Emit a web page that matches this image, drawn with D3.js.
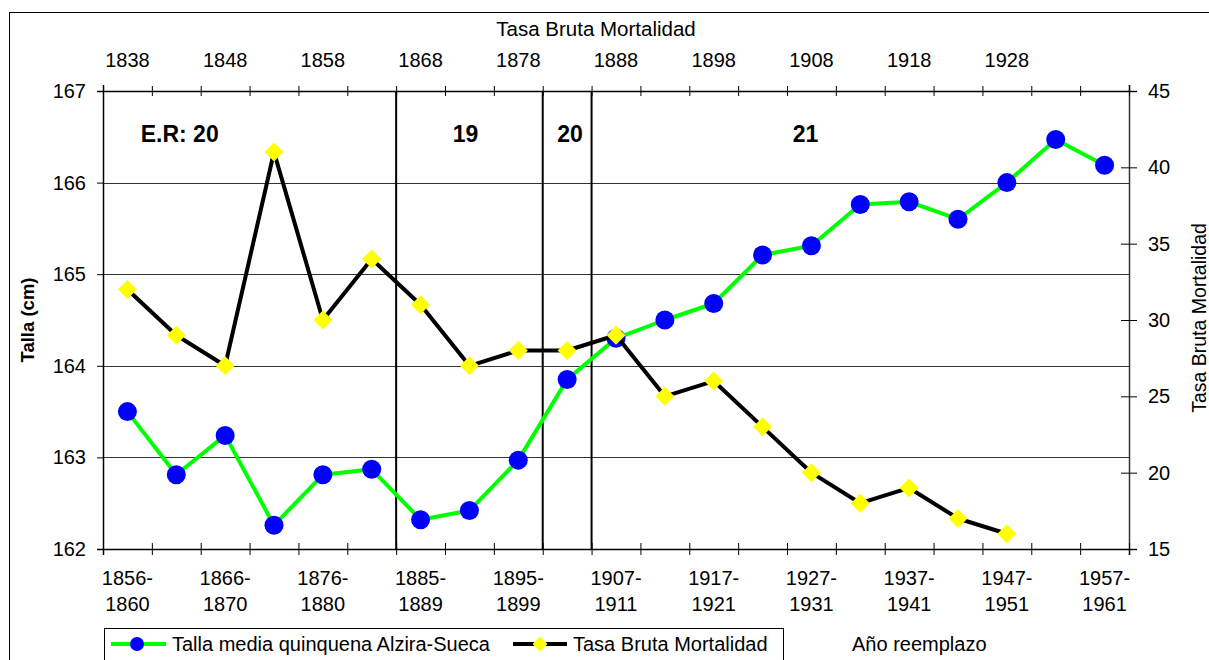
<!DOCTYPE html>
<html>
<head>
<meta charset="utf-8">
<script src="https://cdn.jsdelivr.net/npm/d3@7/dist/d3.min.js"></script>
<style>
  body { margin: 0; background: #fff; }
  text { font-family: "Liberation Sans", Arial, sans-serif; fill: #000; }
</style>
</head>
<body>
<div id="chart"></div>
<script>
// periods of the reemplazo (bottom axis)
var periods = ["1856-1860","1861-1865","1866-1870","1871-1875","1876-1880","1881-1884",
  "1885-1889","1890-1894","1895-1899","1900-1906","1907-1911","1912-1916","1917-1921",
  "1922-1926","1927-1931","1932-1936","1937-1941","1942-1946","1947-1951","1952-1956","1957-1961"];
// birth years used for the mortality rate (top axis)
var birthYears = ["1838","1843","1848","1853","1858","1863","1868","1873","1878","1883",
  "1888","1893","1898","1903","1908","1913","1918","1923","1928","",""];
// mean height, cm
var talla = [163.50,162.81,163.24,162.26,162.81,162.87,162.32,162.42,162.97,163.85,
  164.30,164.50,164.68,165.21,165.31,165.76,165.79,165.60,166.00,166.47,166.19];
// crude mortality rate
var tbm = [32,29,27,41,30,34,31,27,28,28,29,25,26,23,20,18,19,17,16];
// edad de reemplazo: breaks (category index) and labels
var eraBreaks = [6, 9, 10];
var eraLabels = ["E.R: 20", "19", "20", "21"];
var eraLabelPos = [1.57, 7.42, 9.56, 14.38];
var leftTicks = [162,163,164,165,166,167];
var rightTicks = [15,20,25,30,35,40,45];

var W = 1209, H = 660,
    plot = {left: 103, right: 1129, top: 91, bottom: 549},
    font = '"Liberation Sans", Arial, sans-serif';

var svg = d3.select("#chart").append("svg")
    .attr("width", W).attr("height", H);

// outer frame
svg.append("rect")
    .attr("x", 9.5).attr("y", 12.5)
    .attr("width", W + 20).attr("height", H + 20)
    .attr("fill", "none").attr("stroke", "#000").attr("stroke-width", 1);

var x = d3.scaleBand().domain(d3.range(periods.length))
    .range([plot.left, plot.right]).padding(0);
var xb = d3.scaleLinear().domain([0, periods.length])
    .range([plot.left, plot.right]);
var yL = d3.scaleLinear().domain([162, 167]).range([plot.bottom, plot.top]);
var yR = d3.scaleLinear().domain([15, 45]).range([plot.bottom, plot.top]);
var cx = function(i) { return x(i) + x.bandwidth() / 2; };

// horizontal gridlines
svg.append("g").selectAll("line")
    .data(leftTicks.slice(1, -1))
    .join("line")
    .attr("x1", plot.left).attr("x2", plot.right)
    .attr("y1", function(d) { return Math.round(yL(d)) + 0.5; })
    .attr("y2", function(d) { return Math.round(yL(d)) + 0.5; })
    .attr("stroke", "#333").attr("stroke-width", 1);

// era separators
svg.append("g").selectAll("line")
    .data(eraBreaks)
    .join("line")
    .attr("x1", function(d) { return xb(d); })
    .attr("x2", function(d) { return xb(d); })
    .attr("y1", plot.top).attr("y2", plot.bottom)
    .attr("stroke", "#000").attr("stroke-width", 2);

// left axis
var gL = svg.append("g")
    .attr("transform", "translate(" + plot.left + ",0)")
    .call(d3.axisLeft(yL).tickValues(leftTicks).tickSize(6).tickPadding(11)
      .tickFormat(d3.format("d")));
gL.select(".domain").attr("stroke", "#000").attr("stroke-width", 1.5);
gL.selectAll("text").attr("font-size", 20).style("font-family", font);

// right axis
var gR = svg.append("g")
    .attr("transform", "translate(" + plot.right + ",0)")
    .call(d3.axisRight(yR).tickValues(rightTicks).tickSize(8).tickPadding(11));
gR.select(".domain").attr("stroke", "#333").attr("stroke-width", 1.5);
gR.selectAll(".tick line").attr("x1", -8).attr("x2", 8);
gR.selectAll("text").attr("font-size", 20).style("font-family", font);

// bottom axis: boundary ticks + two line labels
var gB = svg.append("g")
    .attr("transform", "translate(0," + plot.bottom + ")")
    .call(d3.axisBottom(xb).tickValues(d3.range(periods.length + 1)).tickFormat(""));
gB.select(".domain").attr("stroke", "#000").attr("stroke-width", 1.5);
gB.selectAll(".tick line").attr("y1", -6).attr("y2", 6);

var bl = svg.append("g").selectAll("text")
    .data(periods.filter(function(d, i) { return i % 2 === 0; }))
    .join("text")
    .attr("text-anchor", "middle").attr("font-size", 20);
bl.append("tspan")
    .attr("x", function(d) { return cx(periods.indexOf(d)); })
    .attr("y", 585)
    .text(function(d) { return d.split("-")[0] + "-"; });
bl.append("tspan")
    .attr("x", function(d) { return cx(periods.indexOf(d)); })
    .attr("y", 611)
    .text(function(d) { return d.split("-")[1]; });

// top axis
var gT = svg.append("g")
    .attr("transform", "translate(0," + plot.top + ")")
    .call(d3.axisTop(xb).tickValues(d3.range(periods.length + 1)).tickFormat(""));
gT.select(".domain").attr("stroke", "#000").attr("stroke-width", 1.5);
gT.selectAll(".tick line").attr("y1", -5).attr("y2", 5);

svg.append("g").selectAll("text")
    .data(birthYears)
    .join("text")
    .filter(function(d, i) { return i % 2 === 0 && d !== ""; })
    .attr("x", function(d, i) { return cx(birthYears.indexOf(d)); })
    .attr("y", 67)
    .attr("text-anchor", "middle").attr("font-size", 20)
    .text(function(d) { return d; });

svg.append("text")
    .attr("x", 596).attr("y", 36)
    .attr("text-anchor", "middle").attr("font-size", 20.5)
    .text("Tasa Bruta Mortalidad");

// axis titles
svg.append("text")
    .attr("transform", "translate(34,320) rotate(-90)")
    .attr("text-anchor", "middle").attr("font-size", 18.5).attr("font-weight", "bold")
    .text("Talla (cm)");
svg.append("text")
    .attr("transform", "translate(1206,318) rotate(-90)")
    .attr("text-anchor", "middle").attr("font-size", 19.5)
    .text("Tasa Bruta Mortalidad");

// era labels
svg.append("g").selectAll("text")
    .data(eraLabels)
    .join("text")
    .attr("x", function(d, i) { return xb(eraLabelPos[i]); })
    .attr("y", 142)
    .attr("text-anchor", "middle").attr("font-size", 23).attr("font-weight", "bold")
    .text(function(d) { return d; });

// height series
var lineL = d3.line().x(function(d, i) { return cx(i); }).y(function(d) { return yL(d); });
svg.append("path")
    .datum(talla)
    .attr("d", lineL)
    .attr("fill", "none").attr("stroke", "#00ff00").attr("stroke-width", 4)
    .attr("stroke-linejoin", "round");
svg.append("g").selectAll("circle")
    .data(talla)
    .join("circle")
    .attr("cx", function(d, i) { return cx(i); })
    .attr("cy", function(d) { return yL(d); })
    .attr("r", 9.5)
    .attr("fill", "#0000ff");

// mortality series
var lineR = d3.line().x(function(d, i) { return cx(i); }).y(function(d) { return yR(d); });
svg.append("path")
    .datum(tbm)
    .attr("d", lineR)
    .attr("fill", "none").attr("stroke", "#000").attr("stroke-width", 4)
    .attr("stroke-linejoin", "round");
var diamond = "M0,-9.5L9.5,0L0,9.5L-9.5,0Z";
svg.append("g").selectAll("path")
    .data(tbm)
    .join("path")
    .attr("transform", function(d, i) { return "translate(" + cx(i) + "," + yR(d) + ")"; })
    .attr("d", diamond)
    .attr("fill", "#ffff00");

// legend
var lg = svg.append("g");
lg.append("rect")
    .attr("x", 104.5).attr("y", 628.5).attr("width", 679).attr("height", 50)
    .attr("fill", "#fff").attr("stroke", "#000").attr("stroke-width", 1);
lg.append("line").attr("x1", 111).attr("x2", 166).attr("y1", 644).attr("y2", 644)
    .attr("stroke", "#00ff00").attr("stroke-width", 4);
lg.append("circle").attr("cx", 137).attr("cy", 644).attr("r", 7).attr("fill", "#0000ff");
lg.append("text").attr("x", 172).attr("y", 651).attr("font-size", 20)
    .text("Talla media quinquena Alzira-Sueca");
lg.append("line").attr("x1", 513).attr("x2", 567).attr("y1", 644).attr("y2", 644)
    .attr("stroke", "#000").attr("stroke-width", 4);
lg.append("path").attr("transform", "translate(540,644)")
    .attr("d", "M0,-7.5L7.5,0L0,7.5L-7.5,0Z").attr("fill", "#ffff00");
lg.append("text").attr("x", 573).attr("y", 651).attr("font-size", 20)
    .text("Tasa Bruta Mortalidad");

svg.append("text").attr("x", 852).attr("y", 651).attr("font-size", 20)
    .text("Año reemplazo");
</script>
</body>
</html>
